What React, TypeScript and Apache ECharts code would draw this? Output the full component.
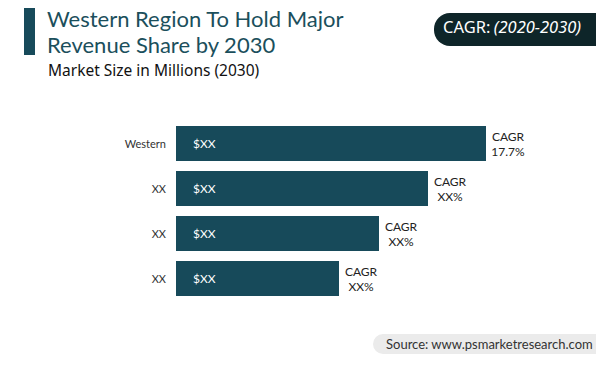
import React, { useEffect, useRef } from "react";
import * as echarts from "echarts";

const regions = ["Western", "XX", "XX", "XX"];
const marketSize = [310, 252, 203, 163];
const valueLabels = ["$XX", "$XX", "$XX", "$XX"];
const cagrLabels = ["17.7%", "XX%", "XX%", "XX%"];
const titleLines = ["Western Region To Hold Major", "Revenue Share by 2030"];

const TEAL = "#174a5a";
const FONT = "Lato, 'Noto Sans', sans-serif";
const WIDE = "'Noto Sans', sans-serif";

export default function App() {
  const ref = useRef<HTMLDivElement>(null);
  useEffect(() => {
    if (!ref.current) return;
    const chart = echarts.init(ref.current, null, { renderer: "svg" });
    chart.setOption({
      animation: false,
      backgroundColor: "#ffffff",
      textStyle: { fontFamily: FONT },
      grid: { left: 176, right: 20, top: 121, height: 180 },
      xAxis: { type: "value", min: 0, max: 400, show: false },
      yAxis: {
        type: "category",
        data: regions,
        inverse: true,
        axisLine: { show: false },
        axisTick: { show: false },
        axisLabel: { color: "#333", fontSize: 11, margin: 10, fontFamily: FONT },
      },
      series: [
        {
          type: "bar",
          data: marketSize,
          barWidth: 35,
          itemStyle: { color: TEAL },
          label: {
            show: true,
            position: "insideLeft",
            distance: 17,
            color: "#ffffff",
            fontSize: 12,
            fontFamily: FONT,
            formatter: (p: any) => valueLabels[p.dataIndex],
          },
        },
        {
          type: "bar",
          data: marketSize,
          barWidth: 35,
          barGap: "-100%",
          itemStyle: { color: "transparent" },
          silent: true,
          label: {
            show: true,
            position: "right",
            distance: 3,
            formatter: (p: any) => `{a|CAGR}\n{a|${cagrLabels[p.dataIndex]}}`,
            rich: {
              a: {
                color: "#222",
                fontSize: 12,
                lineHeight: 15,
                width: 38,
                align: "center",
                fontFamily: FONT,
              },
            },
          },
        },
      ],
      graphic: [
        { type: "rect", shape: { x: 24, y: 8, width: 11, height: 47 }, style: { fill: TEAL } },
        ...titleLines.map((t, i) => ({
          type: "text",
          left: 47,
          top: 6 + i * 26.5,
          style: {
            text: t,
            fill: "#1b4f5c",
            fontFamily: "Lato, sans-serif",
            fontSize: 22,
            lineHeight: 24,
          },
        })),
        {
          type: "text",
          left: 48,
          top: 62,
          style: { text: "Market Size in Millions (2030)", fill: "#111", fontFamily: WIDE, fontSize: 15.5 },
        },
        {
          type: "rect",
          shape: { x: 434, y: 13, width: 180, height: 33, r: 16 },
          style: { fill: "#0e2529" },
        },
        {
          type: "text",
          left: 443,
          top: 18,
          style: {
            text: "{n|CAGR:} {i|(2020-2030)}",
            fill: "#fff",
            rich: {
              n: { fill: "#fff", fontFamily: WIDE, fontSize: 16.5 },
              i: { fill: "#fff", fontFamily: WIDE, fontSize: 16.5, fontStyle: "italic" },
            },
          },
        },
        {
          type: "rect",
          shape: { x: 373, y: 334, width: 240, height: 20, r: 10 },
          style: { fill: "#ebebeb" },
        },
        {
          type: "text",
          left: 386,
          top: 337,
          style: { text: "Source: www.psmarketresearch.com", fill: "#333", fontFamily: FONT, fontSize: 13 },
        },
      ],
    });
    return () => chart.dispose();
  }, []);
  return (
    <div
      ref={ref}
      style={{ position: "fixed", left: 0, top: 0, width: 596, height: 377 }}
    />
  );
}
